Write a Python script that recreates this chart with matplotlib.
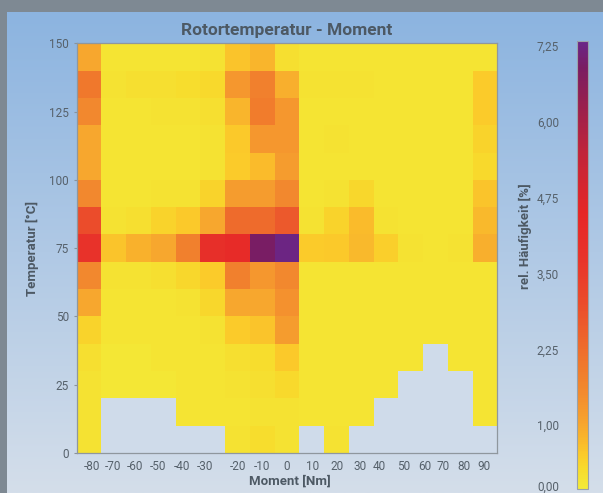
import numpy as np
import matplotlib
matplotlib.use("Agg")
import matplotlib.pyplot as plt
from matplotlib.colors import LinearSegmentedColormap, Normalize, to_rgb

plt.rcParams['font.family'] = ['Roboto', 'DejaVu Sans']

N = np.nan

# Moment bins (centres, Nm) and temperature bin edges (°C)
moment_centers = [-80, -70, -60, -50, -40, -30, -20, -10, 0, 10, 20, 30, 40, 50, 60, 70, 80]
temp_edges = list(range(0, 151, 10))

# rel. Häufigkeit [%], rows from 150 °C down to 0 °C
rows_top_down = [
    [1.0, 0.10, 0.10, 0.10, 0.10, 0.15, 0.60, 0.80, 0.20, 0.10, 0.10, 0.10, 0.10, 0.10, 0.10, 0.10, 0.10],
    [2.0, 0.15, 0.20, 0.20, 0.25, 0.30, 1.30, 1.80, 0.90, 0.15, 0.15, 0.15, 0.10, 0.10, 0.10, 0.10, 0.50],
    [1.6, 0.10, 0.10, 0.15, 0.15, 0.20, 0.80, 1.90, 1.30, 0.10, 0.10, 0.10, 0.10, 0.10, 0.10, 0.10, 0.50],
    [1.0, 0.10, 0.10, 0.10, 0.10, 0.15, 0.55, 1.30, 1.30, 0.10, 0.15, 0.10, 0.10, 0.10, 0.10, 0.10, 0.40],
    [1.0, 0.10, 0.10, 0.10, 0.10, 0.15, 0.50, 0.70, 1.20, 0.10, 0.10, 0.10, 0.10, 0.10, 0.10, 0.10, 0.30],
    [1.6, 0.10, 0.10, 0.15, 0.15, 0.40, 1.20, 1.20, 1.60, 0.10, 0.15, 0.35, 0.10, 0.10, 0.10, 0.10, 0.60],
    [3.0, 0.15, 0.20, 0.40, 0.55, 1.00, 2.30, 2.30, 2.70, 0.15, 0.40, 0.70, 0.15, 0.10, 0.10, 0.10, 0.75],
    [3.8, 0.60, 0.85, 1.00, 1.80, 4.00, 4.20, 6.90, 7.25, 0.50, 0.55, 0.75, 0.45, 0.15, 0.10, 0.15, 0.90],
    [1.6, 0.15, 0.15, 0.20, 0.35, 0.50, 1.80, 1.30, 1.60, 0.10, 0.10, 0.10, 0.10, 0.10, 0.10, 0.10, 0.10],
    [1.0, 0.10, 0.10, 0.10, 0.15, 0.35, 1.00, 1.00, 1.40, 0.10, 0.10, 0.10, 0.10, 0.10, 0.10, 0.10, 0.10],
    [0.4, 0.10, 0.10, 0.10, 0.10, 0.15, 0.50, 0.60, 1.20, 0.10, 0.10, 0.10, 0.10, 0.10, 0.10, 0.10, 0.10],
    [0.2, 0.05, 0.05, 0.10, 0.10, 0.10, 0.20, 0.25, 0.55, 0.10, 0.10, 0.10, 0.10, 0.10, N,    0.10, 0.10],
    [0.15, 0.05, 0.05, 0.05, 0.10, 0.10, 0.15, 0.20, 0.30, 0.10, 0.10, 0.10, 0.10, N,   N,    N,    0.10],
    [0.15, N,    N,    N,    0.10, 0.10, 0.10, 0.15, 0.15, 0.10, 0.10, 0.10, N,    N,    N,    N,    0.10],
    [0.15, N,    N,    N,    N,    N,    0.15, 0.25, 0.15, N,    0.15, N,    N,    N,    N,    N,    N],
]

xtick_labels = ['-80', '-70', '-60', '-50', '-40', '-30', '-20', '-10', '0',
                '10', '20', '30', '40', '50', '60', '70', '80', '90']
# label positions as printed on the original (not evenly spaced)
xtick_pos = [-78.7, -70.2, -61.4, -52.0, -42.6, -33.2, -19.7, -10.2, -0.1,
             10.2, 20.1, 29.5, 37.3, 47.0, 55.8, 63.2, 71.5, 79.4]
ytick_pos = [0, 25, 50, 75, 100, 125, 150]
cbar_ticks = [0.0, 1.0, 2.25, 3.5, 4.75, 6.0, 7.25]

# colour scale
vmin, vmax = -0.05, 7.33
stops = [
    (-0.05, '#f3eb38'), (0.25, '#f7dc2d'), (0.5, '#fbcb2a'), (0.8, '#f9b42c'),
    (1.0, '#f7a62e'), (1.5, '#f38c2e'), (2.0, '#f0782c'), (2.5, '#ed622c'),
    (3.0, '#eb4c2b'), (3.8, '#e8322a'), (4.5, '#e62626'), (5.5, '#c0243a'),
    (6.3, '#98204e'), (6.9, '#7a1c62'), (7.33, '#6a2688'),
]
cmap = LinearSegmentedColormap.from_list(
    'rotor', [((v - vmin) / (vmax - vmin), c) for v, c in stops])

data = np.ma.masked_invalid(np.flipud(np.array(rows_top_down)))
x_edges = np.array(moment_centers + [moment_centers[-1] + 10]) - 5

fig = plt.figure(figsize=(6.03, 4.93), dpi=100)
fig.patch.set_facecolor('#7e8993')

# light blue panel with vertical gradient
bg = fig.add_axes([7 / 603, 0, 596 / 603, 481 / 493], zorder=-5)
top, bot = np.array(to_rgb('#8cb4e0')), np.array(to_rgb('#d4deea'))
t = np.linspace(0, 1, 200)[:, None, None]
bg.imshow(top * (1 - t) + bot * t, aspect='auto', extent=[0, 1, 0, 1])
bg.set_axis_off()

ax = fig.add_axes([76.7 / 603, 1 - 453 / 493, 420.6 / 603, 409.7 / 493])
ax.set_facecolor('#cfdbea')
mesh = ax.pcolormesh(x_edges, temp_edges, data, cmap=cmap,
                     norm=Normalize(vmin=vmin, vmax=vmax))
ax.set_xlim(x_edges[0], x_edges[-1])
ax.set_ylim(0, 150)

txt = '#56616b'
ax.set_xticks(xtick_pos)
ax.set_xticklabels(xtick_labels)
ax.set_yticks(ytick_pos)
ax.tick_params(axis='x', length=0, pad=5, labelsize=8.5, labelcolor=txt)
ax.tick_params(axis='y', length=2.5, width=0.8, color='#8a939b', pad=3,
               labelsize=8.5, labelcolor=txt)
for s in ax.spines.values():
    s.set_color('#8f979e')
    s.set_linewidth(0.9)

fig.text(287 / 603, 1 - 30 / 493, 'Rotortemperatur - Moment', ha='center', va='center',
         fontsize=12.5, fontweight='bold', color='#4d5964')
fig.text(290 / 603, 1 - 481 / 493, 'Moment [Nm]', ha='center', va='center',
         fontsize=9.5, fontweight='bold', color='#4d5964')
fig.text(32 / 603, 1 - 248 / 493, 'Temperatur [°C]', ha='center', va='center',
         rotation=90, fontsize=9.5, fontweight='bold', color='#4d5964')

cax = fig.add_axes([577 / 603, 1 - 489 / 493, 11 / 603, 448 / 493])
cb = fig.colorbar(mesh, cax=cax, ticks=cbar_ticks)
cb.ax.yaxis.set_ticks_position('left')
cb.ax.tick_params(length=0, pad=13, labelsize=8.5, labelcolor=txt)
cb.ax.set_yticklabels([f'{v:.2f}'.replace('.', ',') for v in cbar_ticks])
cb.outline.set_edgecolor('#9aa2aa')
cb.outline.set_linewidth(0.8)
fig.text(525 / 603, 1 - 236 / 493, 'rel. Häufigkeit [%]', ha='center', va='center',
         rotation=90, fontsize=9.5, fontweight='bold', color='#4d5964')

fig.savefig('out.png', dpi=100, facecolor=fig.get_facecolor())
